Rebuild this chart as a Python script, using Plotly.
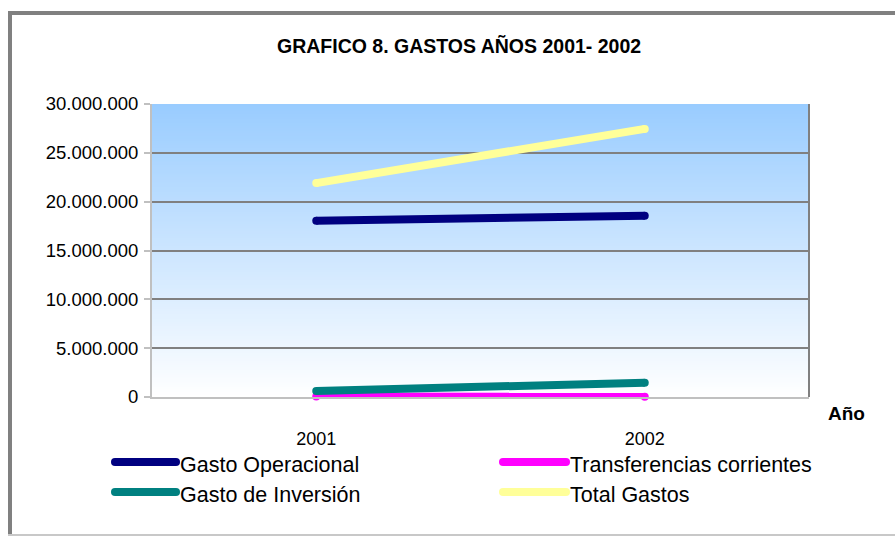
import plotly.graph_objects as go

years = ["2001", "2002"]
series_names = ["Gasto Operacional", "Transferencias corrientes", "Gasto de Inversión", "Total Gastos"]
gasto_operacional = [18050000, 18560000]
transferencias = [40000, 30000]
gasto_inversion = [620000, 1460000]
total_gastos = [21900000, 27450000]
series_values = [gasto_operacional, transferencias, gasto_inversion, total_gastos]
series_colors = ["#000080", "#FF00FF", "#008080", "#FFFF99"]
y_ticks = [0, 5000000, 10000000, 15000000, 20000000, 25000000, 30000000]

FONT = "Liberation Sans, Arial, sans-serif"

fig = go.Figure()
draw_order = [0, 1, 2, 3]
for i in draw_order:
    fig.add_trace(go.Scatter(
        x=years, y=series_values[i], name=series_names[i], mode="lines+markers",
        line=dict(color=series_colors[i], width=8),
        marker=dict(color=series_colors[i], size=8, line=dict(width=0)),
        showlegend=False, cliponaxis=False,
    ))

# plot area geometry (pixels)
L, R, T, B = 152, 809, 104, 397
W, H = R - L, B - T
def px(x):
    return (x - L) / W
def py(y):
    return (B - y) / H

shapes = []
# gradient background
N = 120
top = (153, 204, 255)
bot = (255, 255, 255)
for k in range(N):
    f0 = k / N
    f1 = (k + 1) / N
    t = (k + 0.5) / N  # from bottom
    c = tuple(round(bot[j] + (top[j] - bot[j]) * t) for j in range(3))
    shapes.append(dict(type="rect", xref="x domain", yref="y domain", x0=0, x1=1,
                       y0=f0, y1=min(1, f1 + 0.004), fillcolor="rgb(%d,%d,%d)" % c,
                       line=dict(width=0), layer="below"))
# right border of plot area
shapes.append(dict(type="line", xref="x domain", yref="y domain", x0=1, x1=1, y0=0, y1=1,
                   line=dict(color="#808080", width=2), layer="above"))
# outer frame
shapes.append(dict(type="line", xref="paper", yref="paper", x0=px(8), x1=px(900), y0=py(13), y1=py(13),
                   line=dict(color="#808080", width=4)))
shapes.append(dict(type="line", xref="paper", yref="paper", x0=px(10), x1=px(10), y0=py(11), y1=py(540),
                   line=dict(color="#808080", width=4)))
shapes.append(dict(type="line", xref="paper", yref="paper", x0=px(8), x1=px(900), y0=py(535), y1=py(535),
                   line=dict(color="#C8C8C8", width=2)))

annotations = [
    dict(text="<b>GRAFICO 8. GASTOS AÑOS 2001- 2002</b>", xref="paper", yref="paper",
         x=px(459), y=py(46), xanchor="center", yanchor="middle", showarrow=False,
         font=dict(family=FONT, size=19.5, color="black")),
    dict(text="<b>Año</b>", xref="paper", yref="paper", x=px(846), y=py(413),
         xanchor="center", yanchor="middle", showarrow=False,
         font=dict(family=FONT, size=19, color="black")),
]

# manual legend
leg_pos = [(115, 176, 178, 462), (503, 566, 568, 462), (115, 176, 178, 492), (503, 566, 568, 492)]
for i, (x0, x1, xt, yy) in enumerate(leg_pos):
    shapes.append(dict(type="line", xref="paper", yref="paper", x0=px(x0), x1=px(x1), y0=py(yy), y1=py(yy),
                       line=dict(color=series_colors[i], width=8)))
    for xe in (x0, x1):
        shapes.append(dict(type="circle", xref="paper", yref="paper", xsizemode="pixel", ysizemode="pixel",
                           xanchor=px(xe), yanchor=py(yy), x0=-4, x1=4, y0=-4, y1=4,
                           fillcolor=series_colors[i], line=dict(width=0)))
    annotations.append(dict(text=series_names[i], xref="paper", yref="paper", x=px(xt), y=py(yy + 3),
                            xanchor="left", yanchor="middle", showarrow=False,
                            font=dict(family=FONT, size=21.5, color="black")))

fig.update_layout(
    width=895, height=536,
    margin=dict(l=L, r=895 - R, t=T, b=536 - B, pad=0),
    paper_bgcolor="white", plot_bgcolor="white",
    separators=",.",
    shapes=shapes, annotations=annotations,
    showlegend=False,
)
fig.update_xaxes(
    type="category", range=[-0.5, 1.5], showgrid=False, zeroline=False,
    showline=True, linecolor="#C0C0C0", linewidth=2,
    ticks="", ticklabelstandoff=24,
    tickfont=dict(family=FONT, size=18, color="black"),
)
fig.update_yaxes(
    range=[0, 30000000], tickvals=y_ticks, tickformat=",d",
    showgrid=True, gridcolor="#808080", gridwidth=2, zeroline=False,
    showline=True, linecolor="#C0C0C0", linewidth=2,
    ticks="outside", ticklen=6, tickcolor="#C0C0C0", tickwidth=2,
    ticklabelstandoff=2,
    tickfont=dict(family=FONT, size=18.5, color="black"),
)

fig.write_html("out.html", config={"displayModeBar": False},
               post_script="document.body.style.margin='0';document.body.style.overflow='hidden';")
